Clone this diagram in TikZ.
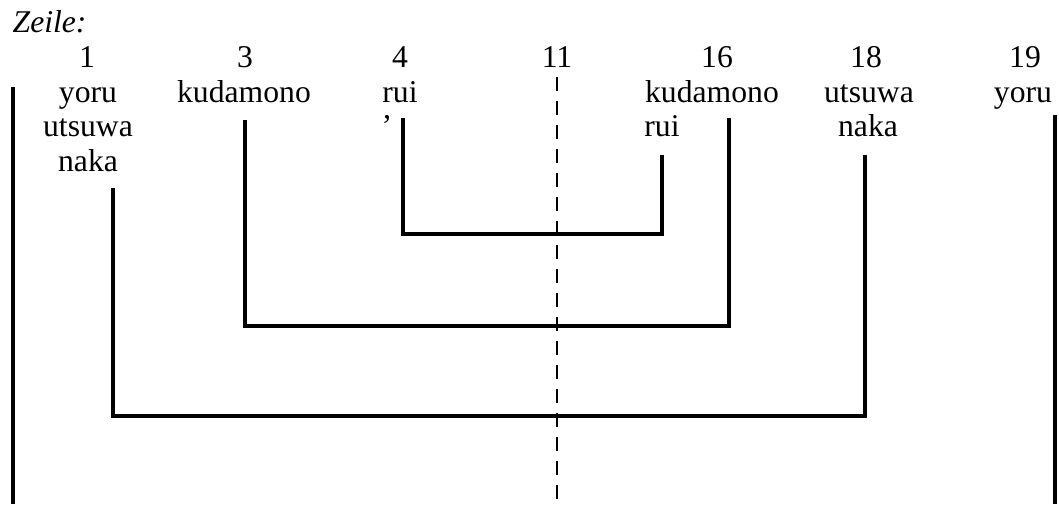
\documentclass[tikz,border=0pt]{standalone}
\usepackage{fontspec}
\setmainfont{Liberation Serif}
\tikzstyle{base} = [inner sep=0pt, anchor=base, font=\fontsize{9.5}{11.5}\selectfont]
\tikzstyle{number} = [base]
\tikzstyle{word} = [base]
\tikzstyle{link} = [line width=0.95pt]
\tikzstyle{axis} = [line width=0.65pt, dash pattern=on 4.2pt off 3pt]

\begin{document}
\begin{tikzpicture}[x=0.3pt, y=-0.3pt]
  \useasboundingbox (0,0) rectangle (1059,504);
  \node (title) [base, anchor=base west] at (12,32) {\itshape Zeile:};
  % line numbers
  \node (n1)  [number] at (87,67)   {1};
  \node (n3)  [number] at (245,67)  {3};
  \node (n4)  [number] at (400,67)  {4};
  \node (n11) [number] at (557,67)  {11};
  \node (n16) [number] at (717,67)  {16};
  \node (n18) [number] at (866,67)  {18};
  \node (n19) [number] at (1025,67) {19};
  % words
  \node (yoruA)   [word] at (88,102)    {yoru};
  \node (utsuwaA) [word] at (88,136.5)  {utsuwa};
  \node (nakaA)   [word] at (88,171)    {naka};
  \node (kudaA)   [word] at (244,102)   {kudamono};
  \node (ruiA)    [word] at (400,102)   {rui};
  \node (tick)    [word] at (387,136.5) {’};
  \node (kudaB)   [word] at (712,102)   {kudamono};
  \node (ruiB)    [word] at (662,136.5) {rui};
  \node (utsuwaB) [word] at (869,102)   {utsuwa};
  \node (nakaB)   [word] at (868,136.5) {naka};
  \node (yoruB)   [word] at (1023,102)  {yoru};
  % line ends
  \coordinate (topL)  at (13,87);
  \coordinate (botL)  at (13,504);
  \coordinate (topR)  at (1055,115);
  \coordinate (botR)  at (1055,504);
  \coordinate (topM)  at (557,77);
  \coordinate (botM)  at (557,504);
  \coordinate (top4)  at (403,118);
  \coordinate (top16a) at (662,155);
  \coordinate (bot16a) at (662,234);
  \coordinate (top3)  at (245,120);
  \coordinate (top16b) at (729,118);
  \coordinate (bot16b) at (729,326);
  \coordinate (top1)  at (113,188);
  \coordinate (top18) at (865,155);
  \coordinate (bot18) at (865,416);

  \draw[link] (topL) -- (botL);
  \draw[link] (topR) -- (botR);
  \draw[axis] (topM) -- (botM);
  \draw[link] (top4) |- (bot16a) -- (top16a);
  \draw[link] (top3) |- (bot16b) -- (top16b);
  \draw[link] (top1) |- (bot18) -- (top18);
\end{tikzpicture}
\end{document}
